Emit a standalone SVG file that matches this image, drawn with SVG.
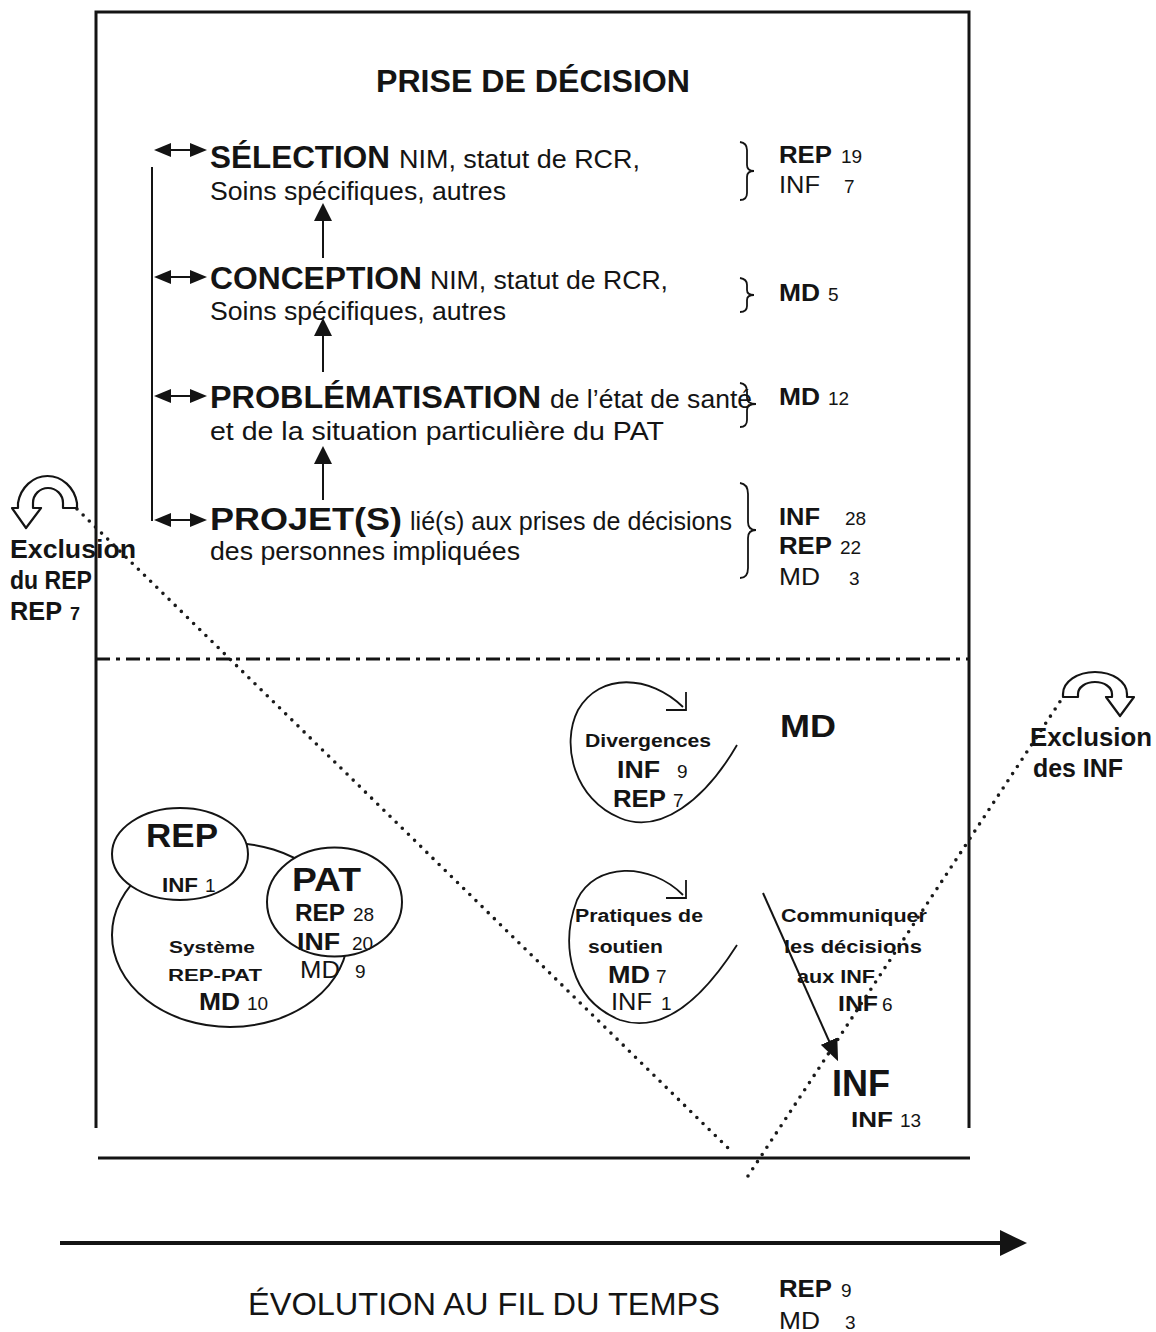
<svg xmlns="http://www.w3.org/2000/svg" width="1156" height="1332" viewBox="0 0 1156 1332">
<defs>
<style>
text{font-family:"Liberation Sans",Arial,sans-serif;fill:#141414}
.b{font-weight:bold}
.t{font-size:31px}
.h{font-size:31px;font-weight:bold}
.r{font-size:25px}
.c{font-size:23px}
.n{font-size:19px}
.s{font-size:18px;font-weight:bold}
.frame{stroke:#141414;stroke-width:3;fill:none}
.ln{stroke:#141414;stroke-width:2;fill:none}
.dot{stroke:#1a1a1a;stroke-width:3.6;stroke-linecap:round;stroke-dasharray:0 8.6;fill:none}
.ell{stroke:#141414;stroke-width:2;fill:#fff}
.curl{stroke:#141414;stroke-width:1.8;fill:none}
.brace{stroke:#141414;stroke-width:1.8;fill:none}
.icon{stroke:#141414;stroke-width:2.2;fill:#fff;stroke-linejoin:round}
</style>
<marker id="dbl" markerUnits="userSpaceOnUse" viewBox="0 0 17 14" markerWidth="17" markerHeight="14" refX="1" refY="7" orient="auto-start-reverse">
<path d="M0,0 L17,7 L0,14 z" fill="#141414"/>
</marker>
<marker id="up" markerUnits="userSpaceOnUse" viewBox="0 0 18 18" markerWidth="18" markerHeight="18" refX="1" refY="9" orient="auto">
<path d="M0,0 L18,9 L0,18 z" fill="#141414"/>
</marker>
<marker id="com" markerUnits="userSpaceOnUse" viewBox="0 0 22 18" markerWidth="22" markerHeight="18" refX="1" refY="9" orient="auto">
<path d="M0,0 L22,9 L0,18 z" fill="#141414"/>
</marker>
<marker id="big" markerUnits="userSpaceOnUse" viewBox="0 0 27 26" markerWidth="27" markerHeight="26" refX="1" refY="13" orient="auto">
<path d="M0,0 L27,13 L0,26 z" fill="#141414"/>
</marker>
</defs>
<rect width="1156" height="1332" fill="#fff"/>

<g id="frame">
<path class="frame" d="M96,1128 L96,12 L969,12 L969,1128"/>
<line class="frame" x1="98" y1="1158" x2="970" y2="1158"/>
<line x1="96" y1="659" x2="969" y2="659" stroke="#141414" stroke-width="3" stroke-dasharray="14 6 4 6"/>
</g>

<g id="title"><text class="h" x="376" y="92" textLength="314" lengthAdjust="spacingAndGlyphs">PRISE DE DÉCISION</text></g>

<g id="selection">
<text class="h" x="210" y="168" textLength="180" lengthAdjust="spacingAndGlyphs">SÉLECTION</text>
<text class="r" x="399" y="168" textLength="241" lengthAdjust="spacingAndGlyphs">NIM, statut de RCR,</text>
<text class="r" x="210" y="200" textLength="296" lengthAdjust="spacingAndGlyphs">Soins spécifiques, autres</text>
</g>
<g id="conception">
<text class="h" x="210" y="289" textLength="212" lengthAdjust="spacingAndGlyphs">CONCEPTION</text>
<text class="r" x="430" y="289" textLength="238" lengthAdjust="spacingAndGlyphs">NIM, statut de RCR,</text>
<text class="r" x="210" y="320" textLength="296" lengthAdjust="spacingAndGlyphs">Soins spécifiques, autres</text>
</g>
<g id="problematisation">
<text class="h" x="210" y="408" textLength="331" lengthAdjust="spacingAndGlyphs">PROBLÉMATISATION</text>
<text class="r" x="550" y="408" textLength="202" lengthAdjust="spacingAndGlyphs">de l’état de santé</text>
<text class="r" x="210" y="440" textLength="454" lengthAdjust="spacingAndGlyphs">et de la situation particulière du PAT</text>
</g>
<g id="projets">
<text class="h" x="210" y="530" textLength="192" lengthAdjust="spacingAndGlyphs">PROJET(S)</text>
<text class="r" x="410" y="530" textLength="322" lengthAdjust="spacingAndGlyphs">lié(s) aux prises de décisions</text>
<text class="r" x="210" y="560" textLength="310" lengthAdjust="spacingAndGlyphs">des personnes impliquées</text>
</g>

<g id="counts-selection">
<path class="brace" d="M740,142 Q747,143 747,150 L747,165 Q747,171 754,171 Q747,171 747,177 L747,193 Q747,200 740,200"/>
<text class="c b" x="779" y="163" textLength="53" lengthAdjust="spacingAndGlyphs">REP</text><text class="n" x="841" y="163">19</text>
<text class="c" x="779" y="193" textLength="41" lengthAdjust="spacingAndGlyphs">INF</text><text class="n" x="844" y="193">7</text>
</g>
<g id="counts-conception">
<path class="brace" d="M740,278 Q747,279 747,285 L747,290 Q747,295 754,295 Q747,295 747,300 L747,306 Q747,312 740,312"/>
<text class="c b" x="779" y="301" textLength="41" lengthAdjust="spacingAndGlyphs">MD</text><text class="n" x="828" y="301">5</text>
</g>
<g id="counts-problematisation">
<path class="brace" d="M740,383 Q747,384 747,391 L747,398 Q747,404 756,404 Q747,404 747,410 L747,420 Q747,427 740,427"/>
<text class="c b" x="779" y="405" textLength="41" lengthAdjust="spacingAndGlyphs">MD</text><text class="n" x="828" y="405">12</text>
</g>
<g id="counts-projets">
<path class="brace" d="M740,483 Q748,484 748,494 L748,522 Q748,530 756,530 Q748,530 748,538 L748,568 Q748,578 740,578"/>
<text class="c b" x="779" y="525" textLength="41" lengthAdjust="spacingAndGlyphs">INF</text><text class="n" x="845" y="525">28</text>
<text class="c b" x="779" y="554" textLength="53" lengthAdjust="spacingAndGlyphs">REP</text><text class="n" x="840" y="554">22</text>
<text class="c" x="779" y="585" textLength="41" lengthAdjust="spacingAndGlyphs">MD</text><text class="n" x="849" y="585">3</text>
</g>

<g id="exclusion-rep">
<path class="icon" d="M77,508 L77,503 A30,33 0 0 0 18,503 L18,508 L12,508 L26,528 L41,508 L33,508 L33,503 A15,15 0 0 1 63,503 L63,508 Z"/>
<text class="b" x="10" y="558" font-size="25" textLength="126" lengthAdjust="spacingAndGlyphs">Exclusion</text>
<text class="b" x="10" y="589" font-size="25" textLength="82" lengthAdjust="spacingAndGlyphs">du REP</text>
<text class="b" x="10" y="620" font-size="25" textLength="52" lengthAdjust="spacingAndGlyphs">REP</text><text class="b" x="70" y="620" font-size="18">7</text>
</g>

<g id="exclusion-inf">
<path class="icon" d="M1063,697 L1063,694 A32,22 0 0 1 1127,694 L1127,697 L1134,697 L1120,716 L1106,697 L1112,697 L1112,694 A17,12 0 0 0 1078,694 L1078,697 Z"/>
<text class="b" x="1030" y="746" font-size="25" textLength="122" lengthAdjust="spacingAndGlyphs">Exclusion</text>
<text class="b" x="1033" y="777" font-size="25" textLength="90" lengthAdjust="spacingAndGlyphs">des INF</text>
</g>

<g id="md-node"><text class="h" x="780" y="737" textLength="56" lengthAdjust="spacingAndGlyphs">MD</text></g>

<g id="divergences">
<path class="curl" d="M683,707 C650,675 600,672 578,710 C560,745 575,800 620,818 C660,835 705,800 737,745"/>
<path class="curl" d="M686,692 L686,710 L666,710"/>
<text class="s" x="585" y="747" textLength="126" lengthAdjust="spacingAndGlyphs">Divergences</text>
<text class="b" x="617" y="778" font-size="24" textLength="43" lengthAdjust="spacingAndGlyphs">INF</text><text class="n" x="677" y="778">9</text>
<text class="b" x="613" y="807" font-size="24" textLength="53" lengthAdjust="spacingAndGlyphs">REP</text><text class="n" x="673" y="807">7</text>
</g>

<g id="pratiques">
<path class="curl" d="M683,895 C650,862 595,862 577,900 C560,945 570,1000 620,1020 C665,1035 705,995 737,945"/>
<path class="curl" d="M686,880 L686,898 L666,898"/>
<text class="s" x="575" y="922" textLength="128" lengthAdjust="spacingAndGlyphs">Pratiques de</text>
<text class="s" x="588" y="953" textLength="75" lengthAdjust="spacingAndGlyphs">soutien</text>
<text class="c b" x="608" y="983" textLength="42" lengthAdjust="spacingAndGlyphs">MD</text><text class="n" x="656" y="983">7</text>
<text class="c" x="611" y="1010" textLength="41" lengthAdjust="spacingAndGlyphs">INF</text><text class="n" x="661" y="1010">1</text>
</g>

<g id="rep-pat">
<ellipse class="ell" cx="230" cy="935" rx="118" ry="92"/>
<ellipse class="ell" cx="180" cy="854" rx="68" ry="46"/>
<ellipse class="ell" cx="334.5" cy="902" rx="67.5" ry="54.5"/>
<text class="b" x="146" y="847" font-size="34" textLength="72" lengthAdjust="spacingAndGlyphs">REP</text>
<text class="b" x="162" y="892" font-size="21" textLength="36" lengthAdjust="spacingAndGlyphs">INF</text><text class="n" x="205" y="892">1</text>
<text class="b" x="292" y="891" font-size="34" textLength="69" lengthAdjust="spacingAndGlyphs">PAT</text>
<text class="c b" x="295" y="921" textLength="50" lengthAdjust="spacingAndGlyphs">REP</text><text class="n" x="353" y="921">28</text>
<text class="c b" x="297" y="950" textLength="43" lengthAdjust="spacingAndGlyphs">INF</text><text class="n" x="352" y="950">20</text>
<text class="c" x="300" y="978" textLength="40" lengthAdjust="spacingAndGlyphs">MD</text><text class="n" x="355" y="978">9</text>
<text class="b" x="169" y="953" font-size="17" textLength="86" lengthAdjust="spacingAndGlyphs">Système</text>
<text class="b" x="168" y="981" font-size="16" textLength="94" lengthAdjust="spacingAndGlyphs">REP-PAT</text>
<text class="c b" x="199" y="1010" textLength="41" lengthAdjust="spacingAndGlyphs">MD</text><text class="n" x="247" y="1010">10</text>
</g>

<g id="communiquer">
<text class="s" x="781" y="922" textLength="146" lengthAdjust="spacingAndGlyphs">Communiquer</text>
<text class="s" x="784" y="953" textLength="138" lengthAdjust="spacingAndGlyphs">les décisions</text>
<text class="s" x="797" y="983" textLength="78" lengthAdjust="spacingAndGlyphs">aux INF</text>
<text class="b" x="838" y="1011" font-size="22" textLength="40" lengthAdjust="spacingAndGlyphs">INF</text><text class="n" x="882" y="1011">6</text>
</g>

<g id="inf-node">
<text class="b" x="832" y="1096" font-size="37" textLength="58" lengthAdjust="spacingAndGlyphs">INF</text>
<text class="b" x="851" y="1127" font-size="22" textLength="42" lengthAdjust="spacingAndGlyphs">INF</text><text class="n" x="900" y="1127">13</text>
</g>

<g id="timeline">
<text class="t" x="248" y="1315" textLength="472" lengthAdjust="spacingAndGlyphs">ÉVOLUTION AU FIL DU TEMPS</text>
<text class="c b" x="779" y="1297" textLength="53" lengthAdjust="spacingAndGlyphs">REP</text><text class="n" x="841" y="1297">9</text>
<text class="c" x="779" y="1329" textLength="41" lengthAdjust="spacingAndGlyphs">MD</text><text class="n" x="845" y="1329">3</text>
</g>

<g id="connectors">
<line class="ln" x1="152" y1="167" x2="152" y2="521"/>
<line class="ln" x1="170" y1="150" x2="191" y2="150" marker-start="url(#dbl)" marker-end="url(#dbl)"/>
<line class="ln" x1="170" y1="277" x2="191" y2="277" marker-start="url(#dbl)" marker-end="url(#dbl)"/>
<line class="ln" x1="170" y1="396" x2="191" y2="396" marker-start="url(#dbl)" marker-end="url(#dbl)"/>
<line class="ln" x1="170" y1="520" x2="191" y2="520" marker-start="url(#dbl)" marker-end="url(#dbl)"/>
<line class="ln" x1="323" y1="258" x2="323" y2="220" marker-end="url(#up)"/>
<line class="ln" x1="323" y1="372" x2="323" y2="335" marker-end="url(#up)"/>
<line class="ln" x1="323" y1="500" x2="323" y2="463" marker-end="url(#up)"/>
<line class="dot" x1="77" y1="509" x2="728" y2="1148"/>
<line class="dot" x1="748" y1="1176" x2="1063" y2="697"/>
<line class="ln" x1="763" y1="893" x2="829.5" y2="1042" marker-end="url(#com)"/>
<line x1="60" y1="1243" x2="1001" y2="1243" stroke="#141414" stroke-width="4" marker-end="url(#big)"/>
</g>
</svg>
